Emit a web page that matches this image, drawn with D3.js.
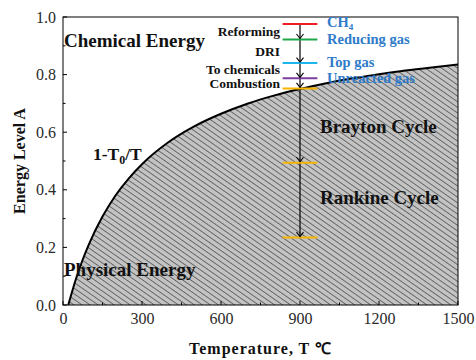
<!DOCTYPE html>
<html>
<head>
<meta charset="utf-8">
<script src="https://cdn.jsdelivr.net/npm/d3@7"></script>
<style>
  body { margin: 0; background: #fff; }
</style>
</head>
<body>
<script>
var svgWidth = 476;
var svgHeight = 360;
var serif = "'Liberation Serif', 'Times New Roman', serif";

var margin = { top: 17, right: 18, bottom: 55, left: 63 };
var width = svgWidth - margin.left - margin.right;
var height = svgHeight - margin.top - margin.bottom;

// curve 1 - T0/T, values read at sample temperatures
var curveTemps = [20, 50, 75, 100, 150, 200, 250, 300, 400, 500, 600, 700, 800, 900, 1000, 1100, 1200, 1300, 1400, 1500];
var curveLevels = [0, 0.093, 0.158, 0.214, 0.307, 0.381, 0.440, 0.489, 0.565, 0.621, 0.664, 0.699, 0.727, 0.750, 0.770, 0.787, 0.801, 0.814, 0.825, 0.835];

// energy level markers at T = 900
var markerTemp = 900;
var markerLevels = [0.976, 0.922, 0.840, 0.787, 0.752, 0.494, 0.234];
var markerColors = ["#ee1c24", "#1ea84b", "#1cb5ec", "#7b3f9e", "#f7b500", "#f7b500", "#f7b500"];
var rightLabels = ["CH", "Reducing gas", "Top gas", "Unreacted gas"];
var leftLabels = ["Reforming", "DRI", "To chemicals", "Combustion"];

var xTicks = [0, 300, 600, 900, 1200, 1500];
var yTicks = [0.0, 0.2, 0.4, 0.6, 0.8, 1.0];

var svg = d3.select("body")
            .append("svg")
            .attr("width", svgWidth)
            .attr("height", svgHeight)
            .attr("font-family", serif);

var defs = svg.append("defs");
var pat = defs.append("pattern")
              .attr("id", "hatch")
              .attr("patternUnits", "userSpaceOnUse")
              .attr("width", 4.6)
              .attr("height", 4.6)
              .attr("patternTransform", "rotate(-55)");
pat.append("rect").attr("width", 4.6).attr("height", 4.6).attr("fill", "#c3c3c3");
pat.append("line").attr("x1", 0).attr("y1", 0).attr("x2", 0).attr("y2", 4.6)
   .attr("stroke", "#222").attr("stroke-width", 1.1);

var chartGroup = svg.append("g")
                    .attr("transform", `translate(${margin.left}, ${margin.top})`);

var x = d3.scaleLinear().domain([0, 1500]).range([0, width]);
var y = d3.scaleLinear().domain([0, 1]).range([height, 0]);

// hatched area under curve
var area = d3.area()
             .x((d, i) => x(curveTemps[i]))
             .y0(y(0))
             .y1(d => y(d))
             .curve(d3.curveMonotoneX);
chartGroup.append("path")
          .datum(curveLevels)
          .attr("d", area)
          .attr("fill", "url(#hatch)");

var line = d3.line()
             .x((d, i) => x(curveTemps[i]))
             .y(d => y(d))
             .curve(d3.curveMonotoneX);
chartGroup.append("path")
          .datum(curveLevels)
          .attr("d", line)
          .attr("fill", "none")
          .attr("stroke", "#000")
          .attr("stroke-width", 2);

// frame
chartGroup.append("rect")
          .attr("width", width)
          .attr("height", height)
          .attr("fill", "none")
          .attr("stroke", "#000")
          .attr("stroke-width", 1);

// axes with inner ticks
var bottomAxis = d3.axisBottom(x).tickValues(xTicks).tickSize(0).tickPadding(8).tickFormat(d3.format("d"));
var leftAxis = d3.axisLeft(y).tickValues(yTicks).tickSize(0).tickPadding(7).tickFormat(d3.format(".1f"));

var gx = chartGroup.append("g").attr("transform", `translate(0, ${height})`).call(bottomAxis);
var gy = chartGroup.append("g").call(leftAxis);
[gx, gy].forEach(function(g) {
  g.attr("font-family", serif).attr("font-size", 16);
  g.select(".domain").remove();
  g.selectAll("text").attr("fill", "#2a2a2a");
});

d3.range(0, 1501, 150).forEach(function(t) {
  var len = (t % 300 === 0) ? 4 : 2.5;
  chartGroup.append("line").attr("x1", x(t)).attr("x2", x(t))
            .attr("y1", height).attr("y2", height - len).attr("stroke", "#000");
});
d3.range(0, 11).forEach(function(k) {
  var len = (k % 2 === 0) ? 4 : 2.5;
  chartGroup.append("line").attr("x1", 0).attr("x2", len)
            .attr("y1", y(k / 10)).attr("y2", y(k / 10)).attr("stroke", "#000");
});

// vertical arrow line
var mx = x(markerTemp);
chartGroup.append("line")
          .attr("x1", mx).attr("x2", mx)
          .attr("y1", y(markerLevels[0])).attr("y2", y(markerLevels[markerLevels.length - 1]))
          .attr("stroke", "#000").attr("stroke-width", 1.2);

// level lines
var half = x(66) - x(0);
chartGroup.selectAll(".lvl")
          .data(markerLevels)
          .enter()
          .append("line")
          .attr("x1", mx - half).attr("x2", mx + half)
          .attr("y1", d => y(d)).attr("y2", d => y(d))
          .attr("stroke", (d, i) => markerColors[i])
          .attr("stroke-width", 2);

// chevron arrowheads
chartGroup.selectAll(".chev")
          .data(markerLevels.slice(1))
          .enter()
          .append("path")
          .attr("d", d => `M${mx - 3.5},${y(d) - 5.5} L${mx},${y(d) - 1} L${mx + 3.5},${y(d) - 5.5}`)
          .attr("fill", "none")
          .attr("stroke", "#000")
          .attr("stroke-width", 1.1);

// left labels (processes)
var leftY = [31, 51, 69.5, 83.5];
leftLabels.forEach(function(s, i) {
  svg.append("text")
     .attr("x", 280).attr("y", leftY[i] + 4.5)
     .attr("text-anchor", "end")
     .attr("font-size", 13.5).attr("font-weight", "bold").attr("fill", "#111")
     .text(s);
});

// right labels (streams)
var rightY = [22.5, 39.5, 62, 78];
rightLabels.forEach(function(s, i) {
  var t = svg.append("text")
             .attr("x", 327).attr("y", rightY[i] + 4.5)
             .attr("font-size", 14.5).attr("font-weight", "bold").attr("fill", "#2f7bc9")
             .text(s);
  if (i === 0) t.append("tspan").attr("font-size", 9).attr("dy", 2.5).text("4");
});

// region labels
function label(txt, px, py, size) {
  return svg.append("text").attr("x", px).attr("y", py)
            .attr("font-size", size).attr("font-weight", "bold").attr("fill", "#111")
            .text(txt);
}
label("Chemical Energy", 64, 47, 19);
label("Physical Energy", 64, 276, 19);
label("Brayton Cycle", 320, 133, 19);
label("Rankine Cycle", 320, 204, 19);
var tt = label("1-T", 93, 160, 17.5);
tt.append("tspan").attr("font-size", 12).attr("dy", 4).text("0");
tt.append("tspan").attr("dy", -4).text("/T");

// axis titles
svg.append("text")
   .attr("x", margin.left + width / 2).attr("y", 354)
   .attr("text-anchor", "middle")
   .attr("font-size", 16).attr("font-weight", "bold").attr("fill", "#111")
   .attr("letter-spacing", 1)
   .text("Temperature, T \u2103");

svg.append("text")
   .attr("transform", `translate(25, ${margin.top + height / 2}) rotate(-90)`)
   .attr("text-anchor", "middle")
   .attr("font-size", 16).attr("font-weight", "bold").attr("fill", "#111")
   .text("Energy Level A");
</script>
</body>
</html>
